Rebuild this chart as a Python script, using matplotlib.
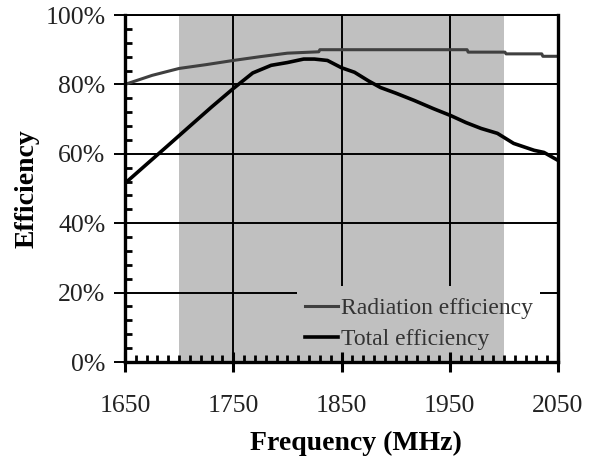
import matplotlib
matplotlib.use('Agg')
import matplotlib.pyplot as plt
from matplotlib.ticker import MultipleLocator, FuncFormatter

plt.rcParams['font.family'] = ['Liberation Serif', 'DejaVu Serif']

# data
freq_rad = [1650, 1675, 1700, 1725, 1750, 1775, 1800, 1829, 1830, 1966, 1967, 2001, 2002, 2035, 2036, 2050]
rad_eff = [80.0, 82.6, 84.6, 85.7, 86.9, 88.0, 89.0, 89.4, 90.0, 90.0, 89.3, 89.3, 88.8, 88.8, 88.1, 88.1]

freq_tot = [1650, 1670, 1689, 1710, 1730, 1750, 1768, 1785, 1800, 1815, 1825, 1837, 1850, 1862,
            1875, 1886, 1900, 1917, 1935, 1951, 1965, 1979, 1994, 2009, 2028, 2037, 2050]
tot_eff = [51.5, 57.0, 62.2, 68.0, 73.5, 78.8, 83.3, 85.5, 86.3, 87.3, 87.3, 86.9, 84.8, 83.5,
           81.0, 79.1, 77.5, 75.4, 73.0, 71.0, 69.0, 67.3, 65.9, 63.0, 61.0, 60.4, 58.1]

band = (1700, 2000)
x_ticks = [1650, 1750, 1850, 1950, 2050]
y_ticks = [0, 20, 40, 60, 80, 100]

fig = plt.figure(figsize=(5.93, 4.63), dpi=100)
ax = fig.add_axes([0.2108, 0.2181, 0.7302, 0.7495])
ax.set_xlim(1650, 2050)
ax.set_ylim(0, 100)

# shaded band
ax.axvspan(band[0], band[1], color='#c0c0c0', lw=0, zorder=0)

# gridlines (hidden behind the legend area, like the original)
gkw = dict(color='black', lw=1.4, zorder=1)
for y in [40, 60, 80, 100]:
    ax.hlines(y, 1650, 2050, **gkw)
ax.hlines(20, 1650, 1809, **gkw)
ax.hlines(20, 2033, 2050, **gkw)
ax.vlines(1750, 0, 100, **gkw)
for x in [1850, 1950]:
    ax.vlines(x, 22, 100, **gkw)

ax.plot(freq_rad, rad_eff, color='#404040', lw=2.2, label='Radiation efficiency', zorder=3)
ax.plot(freq_tot, tot_eff, color='black', lw=2.6, label='Total efficiency', zorder=3)

ax.xaxis.set_major_locator(plt.FixedLocator(x_ticks))
ax.xaxis.set_minor_locator(MultipleLocator(10))
ax.yaxis.set_major_locator(plt.FixedLocator(y_ticks))
ax.yaxis.set_minor_locator(MultipleLocator(4))
ax.yaxis.set_major_formatter(FuncFormatter(lambda v, p: f'{v:.0f}%'))

ax.tick_params(axis='x', which='major', direction='inout', length=14, width=2.2,
               labelsize=18.5, pad=17, labelcolor='#222222')
ax.tick_params(axis='x', which='minor', direction='in', length=5, width=2)
ax.tick_params(axis='y', which='major', direction='out', length=8, width=1.4,
               labelsize=18.5, pad=6, labelcolor='#222222')
ax.tick_params(axis='y', which='minor', direction='in', length=5, width=2)

for s in ['left', 'bottom', 'right']:
    ax.spines[s].set_linewidth(2.4)
ax.spines['top'].set_linewidth(1.4)
for s in ax.spines.values():
    s.set_zorder(4)

ax.set_xlabel('Frequency (MHz)', fontsize=20, fontweight='bold')
ax.xaxis.set_label_coords(0.533, -0.197)
ax.set_ylabel('Efficiency', fontsize=20, fontweight='bold', labelpad=4)

leg = ax.legend(loc='lower left', bbox_to_anchor=(0.416, 0.035), frameon=False, fontsize=17,
                handlelength=1.4, handletextpad=0.12, labelspacing=0.4, borderpad=0,
                borderaxespad=0)
for t in leg.get_texts():
    t.set_color('#333333')

fig.savefig('out.png', dpi=100)
